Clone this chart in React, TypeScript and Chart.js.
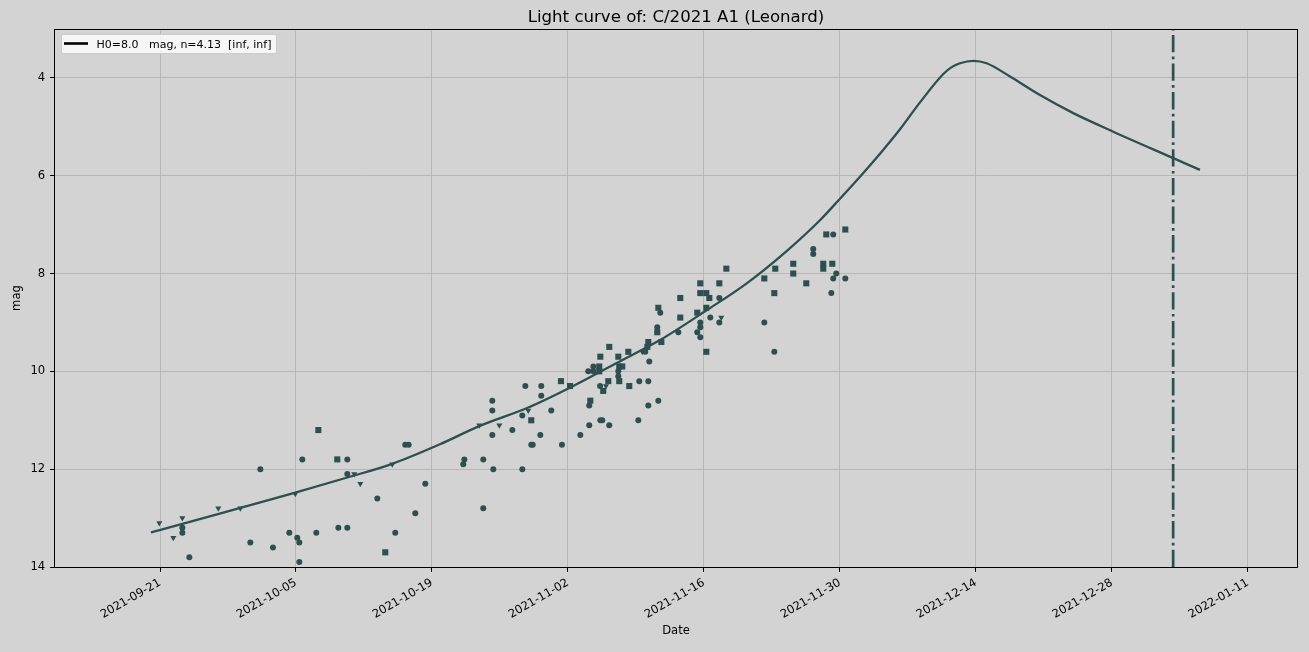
import React, { useEffect, useRef } from 'react';
import { Chart, registerables } from 'chart.js';

Chart.register(...registerables);

// ---- data (x values are days since BASE_DATE) ----
const BASE_DATE = '2021-09-21';
const TITLE = 'Light curve of: C/2021 A1 (Leonard)';
const LEGEND_LABEL = 'H0=8.0   mag, n=4.13  [inf, inf]';
const X_LABEL = 'Date';
const Y_LABEL = 'mag';

const xTickLabels = [
  '2021-09-21', '2021-10-05', '2021-10-19', '2021-11-02', '2021-11-16',
  '2021-11-30', '2021-12-14', '2021-12-28', '2022-01-11',
];
const yTickValues = [4, 6, 8, 10, 12, 14];

const xRangeDays = [-10.81, 117.05];
const yRangeMag = [3, 14];

const perihelionDay = 104.3;

const curveDays = [-0.93, 2.3, 8.27, 13.93, 19.28, 23.91, 28.82, 32.87, 37.91, 42.24, 47.01, 51.47, 56.28, 60.4, 64.51, 67.94, 70.0, 72.06, 74.12, 76.18, 78.24, 80.64, 81.5, 82.35, 83.72, 85.1, 87.5, 90.59, 94.02, 98.14, 104.31, 107.06];
const curveMags = [13.29, 13.12, 12.79, 12.48, 12.17, 11.89, 11.49, 11.12, 10.74, 10.33, 9.83, 9.36, 8.75, 8.2, 7.54, 6.91, 6.47, 6.02, 5.55, 5.05, 4.5, 3.92, 3.78, 3.7, 3.65, 3.7, 3.97, 4.35, 4.72, 5.1, 5.64, 5.88];

const circleDays = [
  2.3, 2.3, 3.02, 9.3, 10.33, 11.63, 13.31, 14.13, 14.34, 14.34,
  14.65, 16.09, 18.36, 19.28, 19.28, 19.28, 22.37, 24.22, 25.25, 25.6,
  26.28, 27.31, 31.22, 31.33, 33.28, 33.28, 34.21, 34.21, 34.21, 34.31,
  36.27, 37.3, 37.3, 37.61, 38.22, 38.37, 39.15, 39.25, 39.25, 40.28,
  41.38, 43.27, 44.09, 44.19, 44.19, 44.61, 44.61, 45.3, 45.33, 45.53,
  46.25, 47.18, 47.18, 49.24, 49.34, 49.96, 50.27, 50.27, 50.37, 51.19,
  51.3, 51.5, 53.36, 55.31, 55.62, 55.62, 55.62, 56.65, 57.58, 57.58,
  62.21, 63.24, 67.25, 67.25, 69.31, 69.62, 69.31, 69.11, 70.55,
];
const circleMags = [
  13.2, 13.3, 13.8, 13.5, 12.0, 13.6, 13.3, 13.4, 13.5, 13.9,
  11.8, 13.3, 13.2, 11.8, 12.1, 13.2, 12.6, 13.3, 11.5, 11.5,
  12.9, 12.3, 11.9, 11.8, 11.8, 12.8, 10.6, 10.8, 11.3, 12.0,
  11.2, 10.9, 12.0, 10.3, 11.5, 11.5, 11.3, 10.3, 10.5, 10.8,
  11.5, 11.3, 10.0, 11.1, 10.7, 9.9, 10.0, 10.3, 11.0, 11.0,
  11.1, 10.0, 10.1, 11.0, 10.2, 9.6, 10.2, 10.7, 9.8, 9.1,
  10.6, 8.8, 9.2, 9.2, 9.0, 9.1, 9.3, 8.9, 8.5, 9.0,
  9.0, 9.6, 7.5, 7.6, 7.2, 8.0, 8.1, 8.4, 8.1,
];

const squareDays = [
  16.3, 18.25, 23.19, 38.22, 41.28, 42.21, 44.3, 45.22, 45.22, 45.33,
  45.63, 46.15, 46.25, 47.18, 47.28, 47.59, 47.28, 48.21, 48.31, 50.17,
  50.27, 51.19, 51.3, 51.61, 53.56, 53.56, 55.31, 55.62, 55.62, 56.24,
  56.55, 56.24, 56.24, 57.58, 58.3, 62.21, 63.34, 63.24, 65.19, 65.19,
  66.53, 68.28, 68.28, 68.59, 69.21, 70.55,
];
const squareMags = [
  11.2, 11.8, 13.7, 11.0, 10.2, 10.3, 10.6, 9.9, 10.0, 9.7,
  10.4, 10.2, 9.5, 9.7, 9.9, 9.9, 10.2, 9.6, 10.3, 9.5,
  9.4, 9.2, 8.7, 9.4, 8.5, 8.9, 8.8, 8.2, 8.4, 8.4,
  8.5, 8.7, 9.6, 8.2, 7.9, 8.1, 7.9, 8.4, 7.8, 8.0,
  8.2, 7.8, 7.9, 7.2, 7.8, 7.1,
];

const triDays = [-0.07, 1.37, 2.3, 6.0, 8.27, 13.93, 20.0, 20.62, 23.91, 32.87, 34.93, 37.91, 45.91, 49.65, 57.78];
const triMags = [13.1, 13.4, 13.0, 12.8, 12.8, 12.5, 12.1, 12.3, 11.9, 11.1, 11.1, 10.8, 10.3, 9.6, 8.9];

// ---- helpers ----
const DAY_MS = 86400000;
const dayOf = (s: string) => (Date.parse(s) - Date.parse(BASE_DATE)) / DAY_MS;
const xTickValues = xTickLabels.map(dayOf);
const pts = (xs: number[], ys: number[]) => xs.map((x, i) => ({ x, y: ys[i] }));

const SLATE = '#2f4f4f';
const FONT = 'DejaVu Sans';

const decorPlugin = {
  id: 'decor',
  beforeDraw(chart: any) {
    const ctx = chart.ctx;
    ctx.save();
    ctx.fillStyle = '#d3d3d3';
    ctx.fillRect(0, 0, chart.width, chart.height);
    ctx.restore();
  },
  afterDraw(chart: any) {
    const ctx = chart.ctx;
    const a = chart.chartArea;
    ctx.save();
    // frame
    ctx.strokeStyle = '#000';
    ctx.lineWidth = 1;
    const l = Math.round(a.left) - 0.5;
    const t = Math.round(a.top) + 0.5;
    const r = Math.round(a.right) + 0.5;
    const b = Math.round(a.bottom) + 0.5;
    ctx.strokeRect(l, t, r - l, b - t);

    ctx.fillStyle = '#000';
    // title
    ctx.font = `16.6px "${FONT}"`;
    ctx.textAlign = 'center';
    ctx.textBaseline = 'alphabetic';
    ctx.fillText(TITLE, (a.left + a.right) / 2, 22);
    // x label
    ctx.font = `11.6px "${FONT}"`;
    ctx.fillText(X_LABEL, (a.left + a.right) / 2, 633.5);
    // y label
    ctx.save();
    ctx.translate(20, (a.top + a.bottom) / 2);
    ctx.rotate(-Math.PI / 2);
    ctx.textAlign = 'center';
    ctx.fillText(Y_LABEL, 0, 0);
    ctx.restore();

    // legend
    const lx = a.left + 6, ly = a.top + 5, lw = 215, lh = 19;
    ctx.beginPath();
    if (ctx.roundRect) ctx.roundRect(lx + 0.5, ly + 0.5, lw, lh, 2);
    else ctx.rect(lx + 0.5, ly + 0.5, lw, lh);
    ctx.fillStyle = 'rgba(255,255,255,0.8)';
    ctx.fill();
    ctx.strokeStyle = '#cccccc';
    ctx.lineWidth = 1;
    ctx.stroke();
    ctx.beginPath();
    ctx.moveTo(lx + 3, ly + 9.5);
    ctx.lineTo(lx + 27, ly + 9.5);
    ctx.strokeStyle = '#000';
    ctx.lineWidth = 2.6;
    ctx.stroke();
    ctx.fillStyle = '#000';
    ctx.font = `11px "${FONT}"`;
    ctx.textAlign = 'left';
    ctx.textBaseline = 'alphabetic';
    ctx.fillText(LEGEND_LABEL, lx + 35.5, ly + 13.5);
    ctx.restore();
  },
};

export default function App() {
  const ref = useRef<HTMLCanvasElement | null>(null);

  useEffect(() => {
    document.body.style.margin = '0';
    document.body.style.overflow = 'hidden';
    const canvas = ref.current;
    if (!canvas) return;
    const chart = new Chart(canvas, {
      type: 'scatter',
      data: {
        datasets: [
          {
            type: 'line',
            data: pts(curveDays, curveMags),
            borderColor: SLATE,
            borderWidth: 2.3,
            pointRadius: 0,
            cubicInterpolationMode: 'monotone',
            fill: false,
            order: 0,
          } as any,
          {
            type: 'line',
            data: [
              { x: perihelionDay, y: yRangeMag[1] },
              { x: perihelionDay, y: yRangeMag[0] },
            ],
            borderColor: SLATE,
            borderWidth: 2.7,
            borderDash: [17.3, 4.3, 2.7, 4.3],
            pointRadius: 0,
            fill: false,
            order: 0,
          } as any,
          {
            data: pts(circleDays, circleMags),
            pointStyle: 'circle',
            pointRadius: 3.0,
            backgroundColor: SLATE,
            borderColor: SLATE,
            borderWidth: 0,
            order: 1,
          },
          {
            data: pts(squareDays, squareMags),
            pointStyle: 'rect',
            pointRadius: 4.3,
            backgroundColor: SLATE,
            borderColor: SLATE,
            borderWidth: 0,
            order: 1,
          },
          {
            data: pts(triDays, triMags),
            pointStyle: 'triangle',
            pointRotation: 180,
            pointRadius: 3.5,
            backgroundColor: SLATE,
            borderColor: SLATE,
            borderWidth: 0,
            order: 1,
          },
        ],
      },
      options: {
        responsive: false,
        devicePixelRatio: 1,
        animation: false,
        events: [],
        layout: { padding: { top: 29, right: 12, left: 0, bottom: 0 } },
        plugins: {
          legend: { display: false },
          tooltip: { enabled: false },
          title: { display: false },
        },
        scales: {
          x: {
            type: 'linear',
            position: 'bottom',
            min: xRangeDays[0],
            max: xRangeDays[1],
            afterBuildTicks: (scale: any) => {
              scale.ticks = xTickValues.map((v) => ({ value: v }));
            },
            afterFit: (scale: any) => {
              scale.height = 85;
            },
            ticks: {
              autoSkip: false,
              minRotation: 30,
              maxRotation: 30,
              padding: 4,
              labelOffset: 0,
              color: '#000',
              font: { family: FONT, size: 11.6 },
              callback: (_v: any, i: number) => xTickLabels[i],
            },
            grid: {
              color: '#b0b0b0',
              lineWidth: 0.8,
              tickLength: 4.9,
              tickColor: '#000',
              tickWidth: 1,
            },
            border: { display: false },
          },
          y: {
            type: 'linear',
            reverse: true,
            min: yRangeMag[0],
            max: yRangeMag[1],
            afterBuildTicks: (scale: any) => {
              scale.ticks = yTickValues.map((v) => ({ value: v }));
            },
            afterFit: (scale: any) => {
              scale.width = 55;
            },
            ticks: {
              padding: 4.9,
              color: '#000',
              font: { family: FONT, size: 11.6 },
              callback: (v: any) => String(v),
            },
            grid: {
              color: '#b0b0b0',
              lineWidth: 0.8,
              tickLength: 4.9,
              tickColor: '#000',
              tickWidth: 1,
            },
            border: { display: false },
          },
        },
      } as any,
      plugins: [decorPlugin],
    });
    return () => chart.destroy();
  }, []);

  return (
    <canvas
      ref={ref}
      width={1309}
      height={652}
      style={{ display: 'block', width: 1309, height: 652 }}
    />
  );
}
